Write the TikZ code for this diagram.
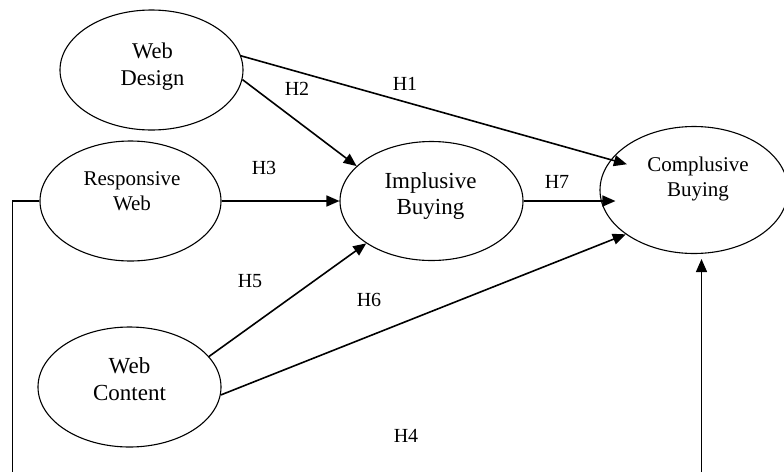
\documentclass[tikz,border=0pt]{standalone}
\usepackage{fontspec}
\setmainfont{Liberation Serif}
\usetikzlibrary{arrows.meta,shapes.geometric}
\tikzset{
  oval/.style={ellipse, draw, line width=1.1pt, inner sep=0pt},
  txt/.style={anchor=base, align=center, inner sep=0pt},
  hlab/.style={inner sep=0pt, font=\fontsize{20}{24}\selectfont},
  conn/.style={line width=1.6pt, -{Triangle[length=13pt,width=11pt]}},
  plain/.style={line width=1.6pt}
}
\begin{document}
\begin{tikzpicture}[x=1pt,y=-1pt]
\useasboundingbox (0,0) rectangle (784,472);
% ellipses
\node[oval, minimum width=183pt, minimum height=120pt] (wd) at (151.5,70) {};
\node[oval, minimum width=181pt, minimum height=120pt] (rw) at (130.5,201) {};
\node[oval, minimum width=183pt, minimum height=119pt] (ib) at (431.5,201) {};
\node[oval, minimum width=188pt, minimum height=127pt] (cb) at (694,190) {};
\node[oval, minimum width=183pt, minimum height=120pt] (wc) at (129.5,387) {};
% texts (anchored at the baseline of the last line)
\node[txt, font=\fontsize{22.5}{27}\selectfont] (twd) at (152.5,85) {Web\\Design};
\node[txt, font=\fontsize{21}{25}\selectfont] (trw) at (132,210) {Responsive\\Web};
\node[txt, font=\fontsize{23}{26}\selectfont] (tib) at (430.5,214) {Implusive\\Buying};
\node[txt, font=\fontsize{21}{24.3}\selectfont] (tcb) at (698,196) {Complusive\\Buying};
\node[txt, font=\fontsize{23}{27}\selectfont] (twc) at (129.5,400) {Web\\Content};
% free ends at the bottom edge
\coordinate (b1) at (12.5,472);
\coordinate (b2) at (701.5,472);
% connectors
\draw[conn, shorten >=-16.8pt] (wd.9.5) -- (cb.160.4);
\draw[conn] (wd.-6.3) -- (ib.155.1);
\draw[conn] (rw.east) -- (ib.west);
\draw[conn, shorten >=-16pt] (ib.east) -- (ib.east -| cb.west);
\draw[conn] (wc.21.2) -- (ib.213.8);
\draw[conn] (wc.-5) -- (cb.213.9);
\draw[plain] (rw.west) -- (rw.west -| b1) -- (b1);
\draw[conn, shorten >=5pt] (b2) -- (b2 |- cb.south);
% labels
\node[hlab] (h1) at (405,84) {H1};
\node[hlab] (h2) at (297,89) {H2};
\node[hlab] (h3) at (264,168) {H3};
\node[hlab] (h7) at (557,182) {H7};
\node[hlab] (h5) at (250,281) {H5};
\node[hlab] (h6) at (369,300) {H6};
\node[hlab] (h4) at (406,436) {H4};
\end{tikzpicture}
\end{document}
